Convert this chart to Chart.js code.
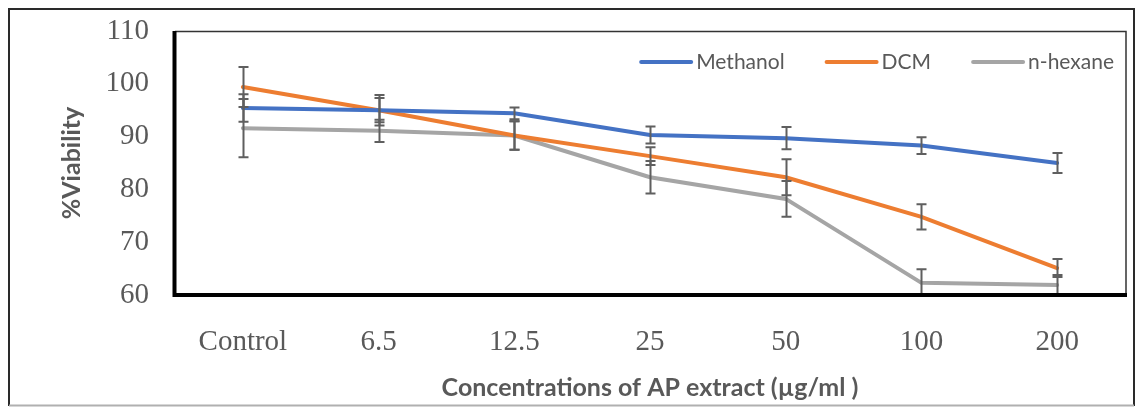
<!DOCTYPE html>
<html>
<head>
<meta charset="utf-8">
<script src="https://cdn.jsdelivr.net/npm/chart.js@4.4.0/dist/chart.umd.min.js"></script>
<style>
  html, body { margin: 0; padding: 0; background: #fff; }
  canvas { display: block; }
</style>
</head>
<body>
<canvas id="graficoViabilidade" width="1141" height="407"></canvas>
<script>
// Dados
const categorias = ["Control", "6.5", "12.5", "25", "50", "100", "200"];
const metanol = [95.4, 95.0, 94.4, 90.3, 89.7, 88.3, 85.0];
const metanolErro = [2.6, 2.3, 1.1, 1.6, 2.1, 1.6, 1.9];
const dcm = [99.4, 95.0, 90.2, 86.3, 82.3, 74.8, 65.1];
const dcmErro = [3.8, 2.9, 2.7, 1.7, 3.4, 2.4, 1.7];
const hexano = [91.6, 91.1, 90.2, 82.3, 78.2, 62.3, 61.9];
const hexanoErro = [5.5, 2.1, 2.7, 3.1, 3.4, 2.6, 1.9];
const ticksY = [60, 70, 80, 90, 100, 110];

const corTexto = "#595959";

// Moldura externa da figura
const molduraPlugin = {
  id: "moldura",
  beforeDraw(chart) {
    const ctx = chart.ctx;
    ctx.save();
    ctx.fillStyle = "#fff";
    ctx.fillRect(0, 0, chart.width, chart.height);
    ctx.lineWidth = 2;
    ctx.strokeStyle = "#2a2a2a";
    ctx.beginPath();
    ctx.moveTo(9, 406);
    ctx.lineTo(9, 9);
    ctx.lineTo(1134, 9);
    ctx.lineTo(1134, 406);
    ctx.stroke();
    ctx.strokeStyle = "#b0b0b0";
    ctx.beginPath();
    ctx.moveTo(9, 405.5);
    ctx.lineTo(1134, 405.5);
    ctx.stroke();
    ctx.restore();
  },
};

// Barras de erro desenhadas com as escalas do gráfico
const errosPlugin = {
  id: "erros",
  afterDatasetsDraw(chart) {
    const ctx = chart.ctx;
    const area = chart.chartArea;
    const x = chart.scales.x;
    const y = chart.scales.y;
    ctx.save();
    ctx.beginPath();
    ctx.rect(area.left, area.top, area.right - area.left, area.bottom - area.top);
    ctx.clip();
    ctx.strokeStyle = "#5f5f5f";
    ctx.lineWidth = 2;
    chart.data.datasets.forEach((ds) => {
      ds.data.forEach((v, i) => {
        const e = ds.erro[i];
        const px = Math.round(x.getPixelForValue(i)) + 0.5;
        const y1 = y.getPixelForValue(v + e);
        const y2 = y.getPixelForValue(v - e);
        ctx.beginPath();
        ctx.moveTo(px, y1);
        ctx.lineTo(px, y2);
        ctx.moveTo(px - 5, y1);
        ctx.lineTo(px + 5, y1);
        ctx.moveTo(px - 5, y2);
        ctx.lineTo(px + 5, y2);
        ctx.stroke();
      });
    });
    ctx.restore();
  },
  afterDraw(chart) {
    const ctx = chart.ctx;
    const a = chart.chartArea;
    ctx.save();
    // bordas finas em cima e à direita
    ctx.strokeStyle = "#333";
    ctx.lineWidth = 1.5;
    ctx.beginPath();
    ctx.moveTo(a.left, a.top + 0.5);
    ctx.lineTo(a.right + 1, a.top + 0.5);
    ctx.lineTo(a.right + 1, a.bottom);
    ctx.stroke();
    // bordas grossas à esquerda e embaixo
    ctx.strokeStyle = "#000";
    ctx.lineWidth = 4;
    ctx.beginPath();
    ctx.moveTo(a.left - 0.5, a.top);
    ctx.lineTo(a.left - 0.5, a.bottom);
    ctx.lineTo(a.right + 2, a.bottom);
    ctx.stroke();

    // legenda dentro da área do gráfico
    ctx.font = "21px Lato";
    ctx.textBaseline = "middle";
    ctx.textAlign = "left";
    const itens = chart.data.datasets;
    const linha = 50, espaco = 5, gap = 42;
    let total = 0;
    itens.forEach((ds, i) => {
      total += linha + espaco + ctx.measureText(ds.label).width + (i < itens.length - 1 ? gap : 0);
    });
    let px = 1114 - total;
    const py = 62;
    itens.forEach((ds) => {
      ctx.strokeStyle = ds.borderColor;
      ctx.lineWidth = 4;
      ctx.lineCap = "round";
      ctx.beginPath();
      ctx.moveTo(px, py);
      ctx.lineTo(px + linha, py);
      ctx.stroke();
      ctx.fillStyle = corTexto;
      ctx.fillText(ds.label, px + linha + espaco, py);
      px += linha + espaco + ctx.measureText(ds.label).width + gap;
    });
    ctx.restore();
  },
};

const ctx = document.getElementById("graficoViabilidade").getContext("2d");

new Chart(ctx, {
  type: "line",
  data: {
    labels: categorias,
    datasets: [
      { label: "Methanol", data: metanol, erro: metanolErro, borderColor: "#4472C4" },
      { label: "DCM", data: dcm, erro: dcmErro, borderColor: "#ED7D31" },
      { label: "n-hexane", data: hexano, erro: hexanoErro, borderColor: "#A5A5A5" },
    ],
  },
  options: {
    responsive: false,
    animation: false,
    devicePixelRatio: 1,
    layout: { padding: { left: 0, top: 31, right: 16, bottom: 0 } },
    elements: {
      line: { borderWidth: 4, tension: 0, borderCapStyle: "round" },
      point: { radius: 0, hoverRadius: 0 },
    },
    plugins: {
      legend: { display: false },
      tooltip: { enabled: false },
    },
    scales: {
      x: {
        offset: true,
        grid: { display: false, drawTicks: false },
        border: { display: false },
        ticks: {
          padding: 30,
          color: corTexto,
          font: { family: "Liberation Serif", size: 29 },
        },
        title: {
          display: true,
          text: "Concentrations of AP extract (\u00b5g/ml )",
          color: corTexto,
          font: { family: "Lato", size: 25, weight: "bold" },
          padding: { top: 0, bottom: 4 },
        },
        afterFit: (s) => { s.height = 112; },
      },
      y: {
        min: 60,
        max: 110,
        afterBuildTicks: (s) => { s.ticks = ticksY.map((v) => ({ value: v })); },
        grid: { display: false, drawTicks: false },
        border: { display: false },
        ticks: {
          padding: 26,
          color: corTexto,
          font: { family: "Liberation Serif", size: 29 },
        },
        title: {
          display: true,
          text: "%Viability",
          color: corTexto,
          font: { family: "Lato", size: 25, weight: "bold" },
          padding: { top: 57, bottom: 0 },
        },
        afterFit: (s) => {
          s.width = 175;
          s.paddingTop = 0;
          s.paddingBottom = 0;
        },
      },
    },
  },
  plugins: [molduraPlugin, errosPlugin],
});
</script>
</body>
</html>
